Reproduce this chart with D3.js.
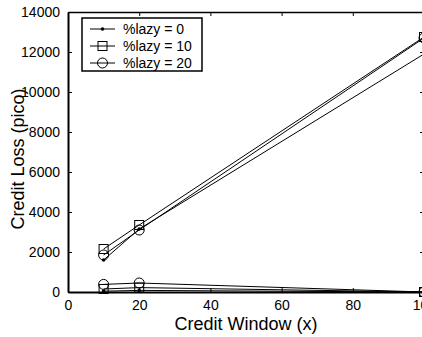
<!DOCTYPE html>
<html>
<head>
<meta charset="utf-8">
<script src="https://cdn.jsdelivr.net/npm/d3@7"></script>
<style>
  body { margin: 0; background: #fff; }
  text { font-family: "Liberation Sans", Arial, sans-serif; fill: #000; }
</style>
</head>
<body>
<svg id="chart" width="422" height="337"></svg>
<script>
// credit window values (x axis)
const windows = [10, 20, 100];

// upper group (credit loss, pico)
const hiLazy0 = [1600, 3150, 11900];
const hiLazy10 = [2150, 3350, 12750];
const hiLazy20 = [1850, 3100, 12700];

// lower group
const loLazy0 = [40, 80, 0];
const loLazy10 = [150, 220, 0];
const loLazy20 = [380, 450, 0];

const xTicks = [0, 20, 40, 60, 80, 100];
const yTicks = [0, 2000, 4000, 6000, 8000, 10000, 12000, 14000];
const legendLabels = ['%lazy = 0', '%lazy = 10', '%lazy = 20'];

const svg = d3.select('#chart');
const mLeft = 68, mRight = 424, mTop = 12, mBottom = 292;

const x = d3.scaleLinear().domain([0, 100]).range([mLeft, mRight]);
const y = d3.scaleLinear().domain([0, 14000]).range([mBottom, mTop]);

// axes, ticks inward
svg.append('g')
    .attr('transform', 'translate(0,' + mBottom + ')')
    .call(d3.axisBottom(x).tickValues(xTicks).tickSizeInner(-4).tickSizeOuter(0).tickPadding(8))
    .call(g => g.select('.domain').attr('stroke-width', 2));
svg.append('g')
    .attr('transform', 'translate(0,' + mTop + ')')
    .call(d3.axisTop(x).tickValues(xTicks).tickSizeInner(-4).tickSizeOuter(0).tickFormat(''))
    .call(g => g.select('.domain').attr('stroke-width', 1.5));
svg.append('g')
    .attr('transform', 'translate(' + mLeft + ',0)')
    .call(d3.axisLeft(y).tickValues(yTicks).tickSizeInner(-4).tickSizeOuter(0).tickPadding(8).tickFormat(d3.format('d')))
    .call(g => g.select('.domain').attr('stroke-width', 2));
svg.append('g')
    .attr('transform', 'translate(' + mRight + ',0)')
    .call(d3.axisRight(y).tickValues(yTicks).tickSizeInner(-4).tickSizeOuter(0).tickFormat(''))
    .call(g => g.select('.domain').attr('stroke-width', 1.5));

svg.selectAll('.tick text').style('font-size', '14px').style('font-family', '"Liberation Sans", Arial, sans-serif');

const line = d3.line().x((d, i) => x(windows[i])).y(d => y(d));

function drawMarker(g, type, cx, cy) {
  if (type === 'dot') {
    g.append('circle').attr('cx', cx).attr('cy', cy).attr('r', 1.8).attr('fill', '#000');
  } else if (type === 'square') {
    g.append('rect').attr('x', cx - 4.5).attr('y', cy - 4.5).attr('width', 9).attr('height', 9)
        .attr('fill', 'none').attr('stroke', '#000').attr('stroke-width', 1);
  } else {
    g.append('circle').attr('cx', cx).attr('cy', cy).attr('r', 5)
        .attr('fill', 'none').attr('stroke', '#000').attr('stroke-width', 1);
  }
}

const series = [
  {vals: hiLazy0, m: 'dot'}, {vals: hiLazy10, m: 'square'}, {vals: hiLazy20, m: 'circle'},
  {vals: loLazy0, m: 'dot'}, {vals: loLazy10, m: 'square'}, {vals: loLazy20, m: 'circle'}
];

const plot = svg.append('g');
series.forEach(s => {
  plot.append('path').attr('d', line(s.vals))
      .attr('fill', 'none').attr('stroke', '#000').attr('stroke-width', 1);
  s.vals.forEach((v, i) => drawMarker(plot, s.m, x(windows[i]), y(v)));
});

// legend
const lg = svg.append('g');
lg.append('rect').attr('x', 82).attr('y', 18).attr('width', 120).attr('height', 53)
    .attr('fill', '#fff').attr('stroke', '#000').attr('stroke-width', 1.5);
['dot', 'square', 'circle'].forEach((m, i) => {
  const ly = 29 + i * 17;
  lg.append('line').attr('x1', 90).attr('x2', 115).attr('y1', ly).attr('y2', ly)
      .attr('stroke', '#000').attr('stroke-width', 1);
  drawMarker(lg, m, 102.5, ly);
  lg.append('text').attr('x', 123).attr('y', ly + 5).style('font-size', '14px').text(legendLabels[i]);
});

// axis titles
svg.append('text').attr('x', (mLeft + mRight) / 2).attr('y', 330)
    .attr('text-anchor', 'middle').style('font-size', '18px').text('Credit Window (x)');
svg.append('text').attr('transform', 'translate(24,159) rotate(-90)')
    .attr('text-anchor', 'middle').style('font-size', '18px').text('Credit Loss (pico)');
</script>
</body>
</html>
